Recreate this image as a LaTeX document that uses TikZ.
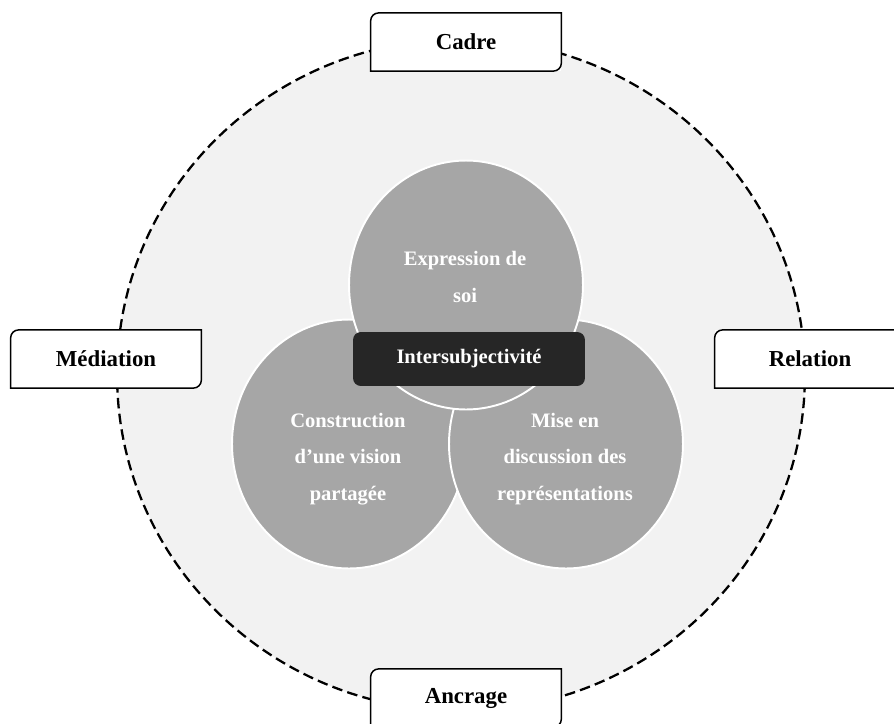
\documentclass[tikz,border=0pt]{standalone}
\usepackage{fontspec}
\setmainfont{Liberation Serif}
\usetikzlibrary{shapes.geometric}
\tikzstyle{bubble} = [ellipse, draw=white, line width=1.1pt, fill=black!35,
    minimum width=4.68cm, minimum height=4.98cm, inner sep=0pt]
\tikzstyle{bubbletext} = [text=white, align=center,
    font=\fontsize{11.7}{20.8}\selectfont\bfseries]
\tikzstyle{tag} = [rectangle, fill=white, minimum width=3.8cm, minimum height=1.15cm,
    font=\fontsize{13}{15}\selectfont\bfseries]
\tikzstyle{core} = [rectangle, rounded corners=4.5pt, fill=black!85, text=white,
    minimum width=4.64cm, minimum height=1.08cm, font=\fontsize{11.7}{14}\selectfont\bfseries]
\newcommand{\tagframe}[1]{\draw[line width=0.85pt] (#1.south west) -- ([yshift=-4.5pt]#1.north west)
    arc (180:90:4.5pt) -- (#1.north east) -- ([yshift=4.5pt]#1.south east) arc (0:-90:4.5pt) -- cycle;}

\begin{document}
\begin{tikzpicture}[x=0.02cm,y=0.02cm]
  \useasboundingbox[fill=white] (0,0) rectangle (894,-724);

  \node[ellipse, draw, dash pattern=on 6pt off 3pt, line width=1.3pt,
        fill=black!5, minimum width=13.76cm, minimum height=13.44cm] (ring) at (461,-375) {};

  \node[bubble] (L) at (349,-444) {};
  \node[bubble] (R) at (566,-444) {};
  \node[bubble] (T) at (466,-285) {};

  \node[bubbletext] (Tt) at (465,-277) {Expression de\\soi};
  \node[bubbletext] (Lt) at (348,-459) {Construction\\d'une vision\\partagée};
  \node[bubbletext] (Rt) at (565,-459) {Mise en\\discussion des\\représentations};

  \node[core] (I) at (469,-359) {Intersubjectivité};

  \node[tag] (cadre)     at (466,-42)  {Cadre};     \tagframe{cadre}
  \node[tag] (mediation) at (106,-359) {Médiation}; \tagframe{mediation}
  \node[tag] (relation)  at (810,-359) {Relation};  \tagframe{relation}
  \node[tag] (ancrage)   at (466,-698) {Ancrage};   \tagframe{ancrage}
\end{tikzpicture}
\end{document}
